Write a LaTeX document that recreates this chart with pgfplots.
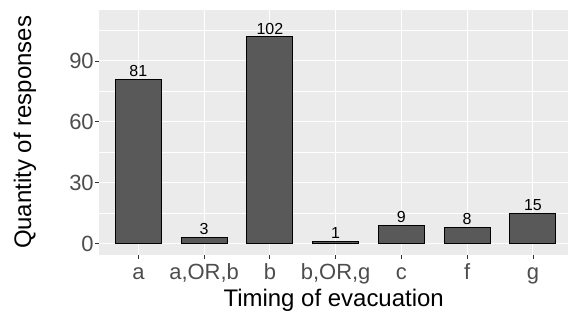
\documentclass[border=0pt]{standalone}
\usepackage{fontspec}
\setmainfont{Liberation Sans}
\usepackage{pgfplots}
\pgfplotsset{compat=1.18}
\definecolor{panelbg}{HTML}{EBEBEB}
\definecolor{barfill}{HTML}{595959}
\definecolor{ticktext}{HTML}{4D4D4D}
\definecolor{tickline}{HTML}{333333}
\begin{document}
\begin{tikzpicture}
\begin{axis}[
  scale only axis,
  width=470pt, height=245pt,
  xmin=0.4, xmax=7.54,
  ymin=-5.57, ymax=115.1,
  ybar, bar width=0.7,
  axis background/.style={fill=panelbg},
  axis x line*=bottom, axis y line*=left,
  axis line style={draw=none},
  xtick={1,2,3,4,5,6,7},
  xticklabels={a,{a,OR,b},b,{b,OR,g},c,f,g},
  ytick={0,30,60,90},
  minor ytick={15,45,75,105},
  xmajorgrids, ymajorgrids, yminorgrids,
  major grid style={white, line width=1.1pt},
  minor grid style={white, line width=0.55pt},
  tick align=outside,
  major tick length=4pt,
  minor tick length=0pt,
  tick style={tickline, line width=0.8pt},
  /pgf/number format/assume math mode=true,
  tick label style={font=\fontsize{22}{24}\selectfont, text=ticktext},
  xticklabel style={anchor=north, inner sep=0pt, text height=16pt, text depth=5pt, yshift=-5pt},
  yticklabel style={anchor=east, inner sep=0pt, xshift=-1pt},
  every axis y label/.style={at={(rel axis cs:0,0.5)}, xshift=-74pt, rotate=90, anchor=center},
  every axis x label/.style={at={(rel axis cs:0.5,0)}, anchor=base, yshift=-52pt},
  label style={font=\fontsize{24}{26}\selectfont},
  xlabel={Timing of evacuation},
  ylabel={Quantity of responses},
  nodes near coords,
  every node near coord/.append style={font=\fontsize{16}{18}\selectfont, text=black, anchor=base, inner sep=0pt, yshift=2.5pt},
  clip=false,
]
\addplot[fill=barfill, draw=black, line width=1pt] coordinates {(1,81) (2,3) (3,102) (4,1) (5,9) (6,8) (7,15)};
\end{axis}
\path (current axis.south west) +(-99pt,-57pt) (current axis.north east) +(0pt,10pt);
\end{tikzpicture}
\end{document}
